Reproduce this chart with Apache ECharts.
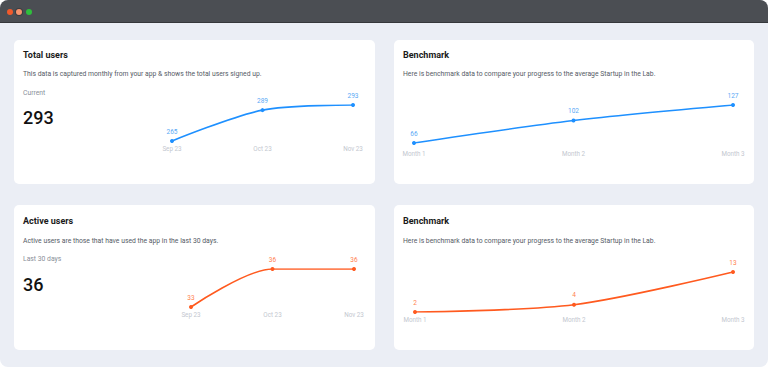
<!DOCTYPE html>
<html><head><meta charset="utf-8">
<script src="https://cdn.jsdelivr.net/npm/echarts@6/dist/echarts.min.js"></script>
<style>
html,body{margin:0;padding:0;background:#fff;width:768px;height:367px;overflow:hidden;font-family:Roboto,"Noto Sans",sans-serif;}
#win{position:absolute;left:0;top:0;width:768px;height:367px;border-radius:8px;overflow:hidden;background:#ebeef5;}
#bar{position:absolute;left:0;top:0;width:768px;height:22px;background:#4b4e53;border-bottom:1px solid #35373b;}
.dot{position:absolute;top:9px;width:6px;height:6px;border-radius:50%;}
.card{position:absolute;background:#fff;border-radius:5px;}
.t{position:absolute;left:9px;font-weight:700;font-size:9px;color:#1a1a1a;white-space:nowrap;}
.d{position:absolute;left:9px;font-size:6.8px;color:#555b66;white-space:nowrap;}
.s{position:absolute;left:9px;font-size:6.8px;color:#8a8f99;white-space:nowrap;}
.b{position:absolute;left:9px;font-size:18px;font-weight:500;color:#111;white-space:nowrap;}
#chart{position:absolute;left:0;top:0;width:768px;height:367px;}
</style></head>
<body>
<div id="win">
  <div id="bar">
    <div class="dot" style="left:7px;background:#f15a2b;"></div>
    <div class="dot" style="left:16px;background:#f6946e;box-shadow:0 0 0 1px #3a3c40;"></div>
    <div class="dot" style="left:26px;background:#2fbf3c;"></div>
  </div>
  <div class="card" style="left:14px;top:40px;width:361px;height:144px;">
    <div class="t" style="top:10px;">Total users</div>
    <div class="d" style="top:30px;">This data is captured monthly from your app &amp; shows the total users signed up.</div>
    <div class="s" style="top:49px;">Current</div>
    <div class="b" style="top:67px;">293</div>
  </div>
  <div class="card" style="left:394px;top:40px;width:360px;height:144px;">
    <div class="t" style="top:10px;">Benchmark</div>
    <div class="d" style="top:30px;">Here is benchmark data to compare your progress to the average Startup in the Lab.</div>
  </div>
  <div class="card" style="left:14px;top:205px;width:361px;height:145px;">
    <div class="t" style="top:11px;">Active users</div>
    <div class="d" style="top:32px;">Active users are those that have used the app in the last 30 days.</div>
    <div class="s" style="top:50px;">Last 30 days</div>
    <div class="b" style="top:69px;">36</div>
  </div>
  <div class="card" style="left:394px;top:205px;width:360px;height:145px;">
    <div class="t" style="top:11px;">Benchmark</div>
    <div class="d" style="top:32px;">Here is benchmark data to compare your progress to the average Startup in the Lab.</div>
  </div>
  <div id="chart"></div>
</div>
<script>
const monthCats = ['Sep 23', 'Oct 23', 'Nov 23'];
const benchCats = ['Month 1', 'Month 2', 'Month 3'];
const totalUsers = [265, 289, 293];
const totalBench = [66, 102, 127];
const activeUsers = [33, 36, 36];
const activeBench = [2, 4, 13];

const BLUE = '#1e90ff', BLUE_L = '#5aa9f5';
const ORANGE = '#ff5a1f', ORANGE_L = '#ff8250';

const grids = [
  {left:172, right:415, top:105, height:36},
  {left:414, right:35, top:105, height:38},
  {left:191, right:414, top:269, height:38},
  {left:415, right:35, top:272, height:40}
];
const cats = [monthCats, benchCats, monthCats, benchCats];
const margins = [5, 8, 5, 5];
const datas = [totalUsers, totalBench, activeUsers, activeBench];
const colors = [[BLUE,BLUE_L],[BLUE,BLUE_L],[ORANGE,ORANGE_L],[ORANGE,ORANGE_L]];

const chart = echarts.init(document.getElementById('chart'), null, {renderer:'svg'});
chart.setOption({
  animation:false,
  grid: grids.map(g => Object.assign({containLabel:false}, g)),
  xAxis: cats.map((c,i) => ({
    type:'category', gridIndex:i, data:c, boundaryGap:false,
    axisLine:{show:false}, axisTick:{show:false}, splitLine:{show:false},
    axisLabel:{color:'#c3c7cf', fontSize:6.3, margin:margins[i], fontFamily:'Roboto'}
  })),
  yAxis: cats.map((c,i) => ({
    type:'value', gridIndex:i, min:'dataMin', max:'dataMax', show:false, scale:true
  })),
  series: datas.map((d,i) => ({
    type:'line', xAxisIndex:i, yAxisIndex:i, data:d, smooth:0.3,
    symbol:'circle', symbolSize:4,
    lineStyle:{color:colors[i][0], width:1.6},
    itemStyle:{color:colors[i][0]},
    label:{show:true, position:'top', distance:4, color:colors[i][1], fontSize:6.5, fontFamily:'Roboto'}
  }))
});
</script>
</body></html>
